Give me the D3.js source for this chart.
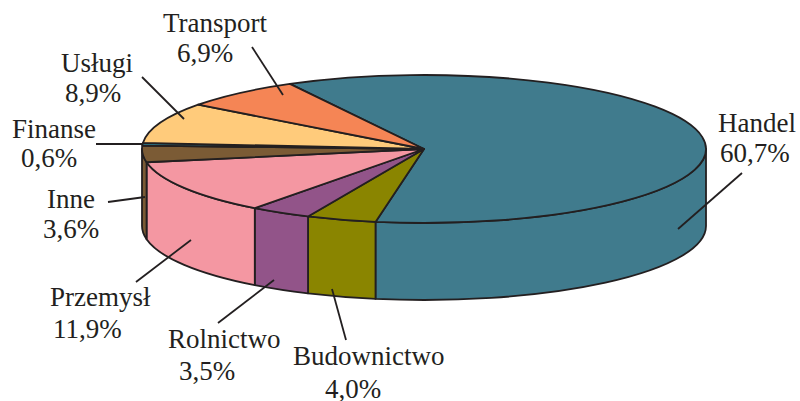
<!DOCTYPE html>
<html><head><meta charset="utf-8">
<script src="https://cdn.jsdelivr.net/npm/d3@7"></script>
<style>body{margin:0;background:#fff}svg{display:block}</style>
</head><body>
<script>
const categories = ["Handel","Budownictwo","Rolnictwo","Przemysł","Inne","Finanse","Usługi","Transport"];
const values = [60.7, 4.0, 3.5, 11.9, 3.6, 0.6, 8.9, 6.9];
const valueLabels = ["60,7%","4,0%","3,5%","11,9%","3,6%","0,6%","8,9%","6,9%"];
const colors = ["#407b8d","#8a8500","#925489","#f497a2","#7b5b35","#2a6878","#ffcb7b","#f58555"];

const W = 800, H = 401;
const cx = 424, cy = 149, rx = 282, ry = 74, depth = 77;

const labelPos = {
  "Handel":      {l1:[718,132], l2:[720,162], ln:[[742,173],[678,229]]},
  "Budownictwo": {l1:[293,365], l2:[325,398], ln:[[346,340],[332,289]]},
  "Rolnictwo":   {l1:[168,348], l2:[179,380], ln:[[218,323],[274,280]]},
  "Przemysł":    {l1:[50,306],  l2:[53,338],  ln:[[136,282],[191,240]]},
  "Inne":        {l1:[47,208],  l2:[43,238],  ln:[[108,202],[145,197]]},
  "Finanse":     {l1:[12,138],  l2:[21,167],  ln:[[96,144],[143,144]]},
  "Usługi":      {l1:[61,72],   l2:[65,102],  ln:[[142,77],[184,119]]},
  "Transport":   {l1:[163,32],  l2:[177,62],  ln:[[252,47],[283,95]]}
};

const data = categories.map((c,i)=>({name:c, value:values[i], label:valueLabels[i]}));
const color = d3.scaleOrdinal().domain(categories).range(colors);

const start = (241.6 + 90) * Math.PI/180;
const pie = d3.pie().value(d=>d.value).sort(null).startAngle(start).endAngle(start + 2*Math.PI);
const arcs = pie(data);

const svg = d3.select("body").append("svg").attr("width",W).attr("height",H);
const stroke = "#231f20", sw = 1.8;

const th = a => a - Math.PI/2;
const pt = (t, dy=0) => [cx + rx*Math.cos(t), cy + ry*Math.sin(t) + dy];

const sides = [];
arcs.forEach(d=>{
  const a = th(d.startAngle), b = th(d.endAngle);
  for (let k=-2;k<=2;k++){
    const lo = Math.max(a, k*2*Math.PI), hi = Math.min(b, k*2*Math.PI + Math.PI);
    if (hi > lo + 1e-6) sides.push({d, lo, hi});
  }
});
svg.append("g").selectAll("path").data(sides).join("path")
  .attr("d", s=>{
    const [x0,y0] = pt(s.lo), [x1,y1] = pt(s.hi);
    const [x2,y2] = pt(s.hi, depth), [x3,y3] = pt(s.lo, depth);
    return `M${x0},${y0} A${rx},${ry} 0 0 1 ${x1},${y1} L${x2},${y2} A${rx},${ry} 0 0 0 ${x3},${y3} Z`;
  })
  .attr("fill", s=>color(s.d.data.name))
  .attr("stroke", stroke).attr("stroke-width", sw).attr("stroke-linejoin","round");

svg.append("g").selectAll("path").data(arcs).join("path")
  .attr("d", d=>{
    const a = th(d.startAngle), b = th(d.endAngle);
    const [x0,y0] = pt(a), [x1,y1] = pt(b);
    const large = (b-a) > Math.PI ? 1 : 0;
    return `M${cx},${cy} L${x0},${y0} A${rx},${ry} 0 ${large} 1 ${x1},${y1} Z`;
  })
  .attr("fill", d=>color(d.data.name))
  .attr("stroke", stroke).attr("stroke-width", sw).attr("stroke-linejoin","round");

const lg = svg.append("g").attr("font-family","Liberation Serif").attr("font-size",27).attr("fill","#231f20");
data.forEach(d=>{
  const p = labelPos[d.name];
  lg.append("line").attr("x1",p.ln[0][0]).attr("y1",p.ln[0][1]).attr("x2",p.ln[1][0]).attr("y2",p.ln[1][1])
    .attr("stroke",stroke).attr("stroke-width",1.8);
  lg.append("text").attr("x",p.l1[0]).attr("y",p.l1[1]).text(d.name);
  lg.append("text").attr("x",p.l2[0]).attr("y",p.l2[1]).text(d.label);
});
</script>
</body></html>
